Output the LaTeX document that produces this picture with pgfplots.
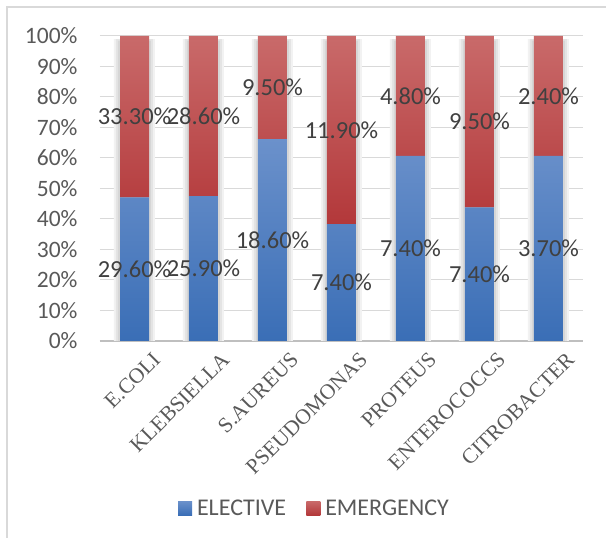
\documentclass[border=0pt]{standalone}
\usepackage{pgfplots}
\usepackage{pgfplotstable}
\pgfplotsset{compat=1.18}
\usepackage{fontspec}
\setmainfont{Carlito}
\newfontfamily\serifx{Liberation Serif}

\definecolor{gridgray}{HTML}{D9D9D9}
\definecolor{axisgray}{HTML}{BFBFBF}
\definecolor{ticktext}{HTML}{595959}
\definecolor{labeltext}{HTML}{404040}
\definecolor{blueTop}{HTML}{6B91CB}
\definecolor{blueBot}{HTML}{3A6EB6}
\definecolor{redTop}{HTML}{C96A6A}
\definecolor{redBot}{HTML}{B3383A}
\definecolor{shadeA}{HTML}{F2F2F2}
\definecolor{shadeB}{HTML}{E4E4E4}
\definecolor{shadeC}{HTML}{D6D6D6}

% share of each group of isolates (percent of all cases)
\pgfplotstableread{
x name        elective emergency
0 E.COLI      29.6     33.3
1 KLEBSIELLA  25.9     28.6
2 S.AUREUS    18.6     9.5
3 PSEUDOMONAS 7.4      11.9
4 PROTEUS     7.4      4.8
5 ENTEROCOCCS 7.4      9.5
6 CITROBACTER 3.7      2.4
}\datatable
% normalise each organism to 100 % and find the middle of each segment
\pgfplotstablecreatecol[create col/expr={100*\thisrow{elective}/(\thisrow{elective}+\thisrow{emergency})}]{eshare}\datatable
\pgfplotstablecreatecol[create col/expr={100-\thisrow{eshare}}]{mshare}\datatable
\pgfplotstablecreatecol[create col/expr={\thisrow{eshare}/2}]{ey}\datatable
\pgfplotstablecreatecol[create col/expr={(100+\thisrow{eshare})/2}]{my}\datatable

\pgfplotsset{
  base/.style={
    scale only axis, width=483pt, height=305pt,
    at={(100pt,197pt)}, anchor=south west,
    xmin=-0.5, xmax=6.5, ymin=0, ymax=100,
    enlargelimits=false,
    major tick length=0pt,
  },
}

\begin{document}
\begin{tikzpicture}
\useasboundingbox (0,0) rectangle (606pt,538pt);
% outer frame
\draw[gridgray, line width=1.2pt] (7pt,0pt) -- (7pt,531pt) -- (606pt,531pt);

% grid, tick labels and the soft shadow behind each column
\begin{axis}[base,
  ymajorgrids, grid style={gridgray, line width=1pt},
  ytick={0,10,...,100},
  yticklabel={\pgfmathprintnumber{\tick}\%},
  yticklabel style={font=\fontsize{23.5}{23.5}\selectfont, text=ticktext, xshift=-19pt},
  /pgf/number format/assume math mode=true,
  xtick={0,...,6},
  xticklabels={E.COLI,KLEBSIELLA,S.AUREUS,PSEUDOMONAS,PROTEUS,ENTEROCOCCS,CITROBACTER},
  xticklabel style={font=\serifx\fontsize{21.5}{21.5}\selectfont, text=ticktext,
    rotate=45, anchor=north east, inner sep=0pt, xshift=5pt, yshift=-19pt},
  axis x line*=bottom, axis y line*=left,
  x axis line style={axisgray, line width=1.5pt, -},
  y axis line style={draw=none},
]
\addplot[ybar, bar width=41pt, bar shift=0pt, fill=shadeA, draw=none]
  coordinates {(0,99) (1,99) (2,99) (3,99) (4,99) (5,99) (6,99)};
\addplot[ybar, bar width=37pt, bar shift=0pt, fill=shadeB, draw=none]
  coordinates {(0,99) (1,99) (2,99) (3,99) (4,99) (5,99) (6,99)};
\addplot[ybar, bar width=33pt, bar shift=0pt, fill=shadeC, draw=none]
  coordinates {(0,98.5) (1,98.5) (2,98.5) (3,98.5) (4,98.5) (5,98.5) (6,98.5)};
\end{axis}

% the 100 % stacked columns
\begin{axis}[base,
  ybar stacked, bar width=29pt,
  hide y axis, hide x axis,
  legend style={at={(axis description cs:0.444,-0.548)}, anchor=center,
    draw=none, fill=none, legend columns=2,
    font=\fontsize{24}{24}\selectfont, text=ticktext,
    /tikz/every even column/.append style={column sep=18pt},
    /tikz/every odd column/.append style={column sep=3pt}},
  legend image code/.code={\path[#1] (0pt,-7pt) rectangle (14pt,7pt);},
]
\addplot[draw=none, shade, top color=blueTop, bottom color=blueBot]
  table[x=x, y=eshare] {\datatable};
\addlegendentry{ELECTIVE}
\addplot[draw=none, shade, top color=redTop, bottom color=redBot]
  table[x=x, y=mshare] {\datatable};
\addlegendentry{EMERGENCY}
\end{axis}

% value labels in the middle of each segment
\begin{axis}[base,
  hide y axis, hide x axis,
  nodes near coords={\pgfmathprintnumber[fixed,fixed zerofill,precision=2]{\pgfplotspointmeta}\%},
  nodes near coords align=center,
  every node near coord/.append style={font=\fontsize{24.5}{24.5}\selectfont, text=labeltext,
    /pgf/number format/assume math mode=true},
]
\addplot[draw=none, mark=none, point meta=explicit]
  table[x=x, y=ey, meta=elective] {\datatable};
\addplot[draw=none, mark=none, point meta=explicit]
  table[x=x, y=my, meta=emergency] {\datatable};
\end{axis}
\end{tikzpicture}
\end{document}
